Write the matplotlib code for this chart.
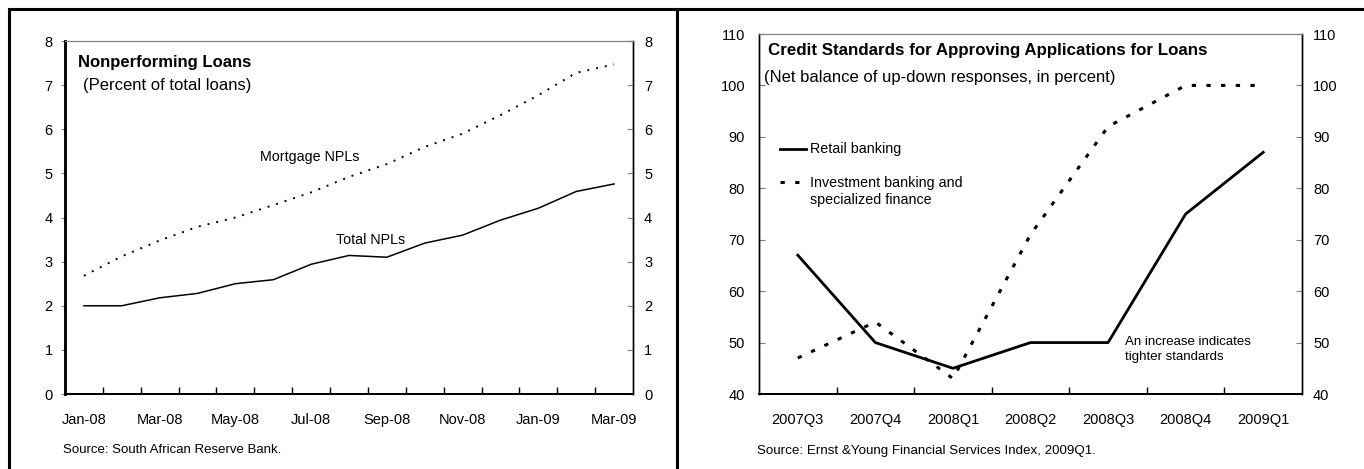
import matplotlib
matplotlib.use("Agg")
import matplotlib.pyplot as plt
import numpy as np
from matplotlib.patches import Rectangle
from matplotlib.lines import Line2D

plt.rcParams['font.family'] = ['Liberation Sans', 'DejaVu Sans']

# datos panel izquierdo
meses = ['Jan-08', 'Feb-08', 'Mar-08', 'Apr-08', 'May-08', 'Jun-08', 'Jul-08',
         'Aug-08', 'Sep-08', 'Oct-08', 'Nov-08', 'Dec-08', 'Jan-09', 'Feb-09', 'Mar-09']
total_npl = [2.0, 2.0, 2.18, 2.28, 2.5, 2.59, 2.94, 3.14, 3.1, 3.42, 3.6, 3.94, 4.21, 4.59, 4.76]
mortgage_npl = [2.68, 3.12, 3.48, 3.79, 4.0, 4.28, 4.57, 4.92, 5.21, 5.6, 5.9, 6.32, 6.77, 7.28, 7.47]

# datos panel derecho
trimestres = ['2007Q3', '2007Q4', '2008Q1', '2008Q2', '2008Q3', '2008Q4', '2009Q1']
retail = [67, 50, 45, 50, 50, 75, 87]
inversion = [47, 54, 43, 71, 92, 100, 100]

W, H = 1364, 469
fig = plt.figure(figsize=(W / 100, H / 100), dpi=100)

def caja(x0, y0, x1, y1):
    return [x0 / W, 1 - y1 / H, (x1 - x0) / W, (y1 - y0) / H]

gris = '#7f7f7f'
tam = 10.5

# ---------- panel izquierdo ----------
ax1 = fig.add_axes(caja(65, 41, 633, 394))
x1 = np.arange(len(meses))
ax1.plot(x1, total_npl, color='black', lw=1.1)
ax1.plot(x1, mortgage_npl, color='black', lw=1.4, linestyle=(0, (1, 3.6)))
ax1.set_xlim(-0.5, len(meses) - 0.5)
ax1.set_ylim(0, 8)
ax1.set_yticks(range(0, 9))
ax1.set_xticks(x1[::2])
ax1.set_xticklabels(meses[::2], fontsize=tam)
ax1.set_xticks(np.arange(0.5, len(meses) - 1, 1), minor=True)
ax1.tick_params(axis='x', which='major', length=0, pad=13.5)
ax1.tick_params(axis='x', which='minor', direction='in', length=5, width=1, color='black')
ax1.tick_params(axis='y', direction='out', length=3, width=0.8, color=gris, labelsize=tam, pad=6)
ax1b = ax1.twinx()
ax1b.set_ylim(0, 8)
ax1b.set_yticks(range(0, 9))
ax1b.tick_params(axis='y', direction='in', length=4, width=0.8, color=gris, labelsize=tam, pad=8)
for a in (ax1, ax1b):
    a.spines['top'].set_color(gris)
    a.spines['top'].set_linewidth(0.8)
    a.spines['right'].set_linewidth(1.0)
    a.spines['bottom'].set_linewidth(1.4)
    a.spines['left'].set_linewidth(1.8)

ax1.text(0.023, 0.9405, 'Nonperforming Loans', transform=ax1.transAxes,
         fontsize=12, fontweight='bold', va='center', ha='left')
ax1.text(0.0317, 0.875, '(Percent of total loans)', transform=ax1.transAxes,
         fontsize=12, va='center', ha='left')
ax1.text(5.96, 5.37, 'Mortgage NPLs', fontsize=10.3, ha='center', va='center')
ax1.text(7.57, 3.49, 'Total NPLs', fontsize=10.3, ha='center', va='center')
fig.text(63 / W, 1 - 450 / H, 'Source: South African Reserve Bank.', fontsize=9.5, va='center')

# ---------- panel derecho ----------
ax2 = fig.add_axes(caja(759, 34, 1302, 394))
x2 = np.arange(len(trimestres))
ax2.plot(x2, retail, color='black', lw=2.0)
ax2.plot(x2, inversion, color='black', lw=2.2, linestyle=(0, (1.4, 3.4)))
ax2.set_xlim(-0.5, len(trimestres) - 0.5)
ax2.set_ylim(40, 110)
ax2.set_yticks(range(40, 111, 10))
ax2.set_xticks(x2)
ax2.set_xticklabels(trimestres, fontsize=tam)
ax2.set_xticks(np.arange(0.5, len(trimestres) - 1, 1), minor=True)
ax2.tick_params(axis='x', which='major', length=0, pad=13.5)
ax2.tick_params(axis='x', which='minor', direction='in', length=5, width=1, color='black')
ax2.tick_params(axis='y', direction='in', length=4, width=0.8, color=gris, labelsize=tam, pad=10)
ax2b = ax2.twinx()
ax2b.set_ylim(40, 110)
ax2b.set_yticks(range(40, 111, 10))
ax2b.tick_params(axis='y', direction='in', length=4, width=0.8, color=gris, labelsize=tam, pad=8)
for a in (ax2, ax2b):
    a.spines['top'].set_color(gris)
    a.spines['top'].set_linewidth(0.8)
    a.spines['right'].set_linewidth(1.0)
    a.spines['bottom'].set_linewidth(1.4)
    a.spines['left'].set_linewidth(1.0)

ax2.text(0.0166, 0.9528, 'Credit Standards for Approving Applications for Loans',
         transform=ax2.transAxes, fontsize=12.2, fontweight='bold', va='center', ha='left')
ax2.text(0.0092, 0.8778, '(Net balance of up-down responses, in percent)',
         transform=ax2.transAxes, fontsize=12, va='center', ha='left')

# leyenda manual
ax2.add_line(Line2D([0.0387, 0.0866], [0.6806, 0.6806], transform=ax2.transAxes,
                    color='black', lw=2.0))
ax2.text(0.0939, 0.6806, 'Retail banking', transform=ax2.transAxes,
         fontsize=10.3, va='center', ha='left')
ax2.add_line(Line2D([0.0387, 0.0866], [0.5889, 0.5889], transform=ax2.transAxes,
                    color='black', lw=2.2, linestyle=(0, (1.4, 3.4))))
ax2.text(0.0939, 0.5625, 'Investment banking and\nspecialized finance', transform=ax2.transAxes,
         fontsize=10.3, va='center', ha='left', linespacing=1.3)
ax2.text(0.674, 0.1236, 'An increase indicates\ntighter standards', transform=ax2.transAxes,
         fontsize=9.5, va='center', ha='left', linespacing=1.3)
fig.text(757 / W, 1 - 451 / H, 'Source: Ernst &Young Financial Services Index, 2009Q1.',
         fontsize=9.6, va='center')

# marcos
fig.add_artist(Rectangle((9 / W, -0.05), (677 - 9) / W, 1.05 - 9 / H, transform=fig.transFigure,
                         fill=False, edgecolor='black', lw=2.2))
fig.add_artist(Line2D([677 / W, 1.0], [1 - 9 / H, 1 - 9 / H], transform=fig.transFigure,
                      color='black', lw=2.2))

fig.savefig('out.png', dpi=100)
